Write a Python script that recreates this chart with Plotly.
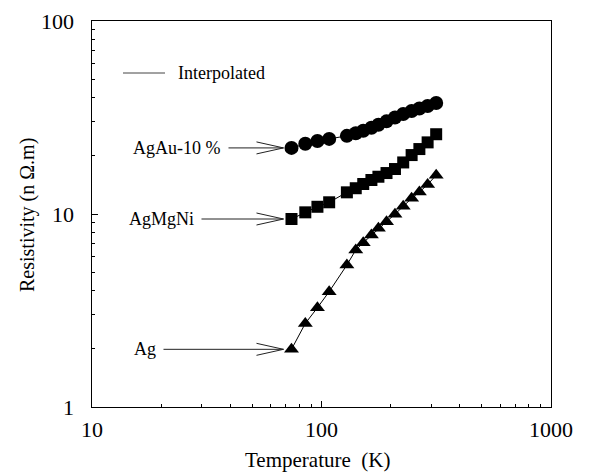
import math
import plotly.graph_objects as go

# Measured resistivity versus temperature for three silver alloys
temperature_k = [74, 85, 96, 108, 129, 141, 152, 165, 177, 192, 209, 227, 247, 267, 290, 316]
rho_agau10 = [22.0, 23.1, 23.9, 24.5, 25.4, 26.2, 27.0, 28.0, 29.0, 30.2, 31.6, 33.0, 34.2, 35.2, 36.3, 37.6]
rho_agmgni = [9.42, 10.2, 10.9, 11.5, 12.95, 13.6, 14.3, 15.0, 15.6, 16.3, 17.1, 18.5, 20.2, 21.7, 23.5, 25.9]
rho_ag = [1.99, 2.71, 3.27, 3.96, 5.44, 6.51, 7.1, 7.78, 8.43, 9.12, 9.98, 10.97, 12.05, 13.0, 14.2, 15.9]

series_names = ["AgAu-10 %", "AgMgNi", "Ag"]
series_values = [rho_agau10, rho_agmgni, rho_ag]
series_symbols = ["circle", "square", "triangle-up"]
series_sizes = [14, 12, 13]
shaft_lengths = [55, 82, 120]  # pixel length of each label arrow

x_tick_vals = [10, 100, 1000]
x_tick_text = ["10", "100", "1000"]
y_tick_vals = [1, 10, 100]
y_tick_text = ["1", "10", "100"]

FONT = "Liberation Serif, Times New Roman, serif"
FIG_W, FIG_H = 596, 474
M_L, M_R, M_T, M_B = 92, 45, 21, 67
PW = FIG_W - M_L - M_R
PH = FIG_H - M_T - M_B

fig = go.Figure()

for name, vals, sym, size in zip(series_names, series_values, series_symbols, series_sizes):
    fig.add_trace(go.Scatter(
        x=temperature_k, y=vals, name=name, mode="lines+markers",
        line=dict(color="black", width=1),
        marker=dict(symbol=sym, size=size, color="black", line=dict(width=0)),
        showlegend=False,
    ))

shapes = []
annotations = []


def px_x(p):
    return p / PW


def px_y(p):
    return p / PH


# Label arrows pointing at the first point of each series
for name, vals, shaft in zip(series_names, series_values, shaft_lengths):
    xt = (math.log10(temperature_k[0]) - 1) / 2 - px_x(8)
    yt = math.log10(vals[0]) / 2
    xs = xt - px_x(shaft)
    xb = xt - px_x(27)
    dy = px_y(6)
    path = (f"M{xs},{yt} L{xt},{yt} M{xb},{yt + dy} L{xt},{yt} L{xb},{yt - dy}")
    shapes.append(dict(type="path", xref="paper", yref="paper", path=path,
                       line=dict(color="#222", width=1)))
    annotations.append(dict(xref="paper", yref="paper", x=xs - px_x(5), y=yt,
                            text=name, showarrow=False, xanchor="right", yanchor="middle",
                            font=dict(family=FONT, size=18, color="black")))

# Key for the interpolation line
ky = (407 - 73) / PH
shapes.append(dict(type="line", xref="paper", yref="paper",
                   x0=px_x(123 - 92), x1=px_x(165 - 92), y0=ky, y1=ky,
                   line=dict(color="#444", width=1)))
annotations.append(dict(xref="paper", yref="paper", x=px_x(176 - 92), y=ky,
                        text="Interpolated", showarrow=False, xanchor="left", yanchor="middle",
                        font=dict(family=FONT, size=18, color="black")))

# Tick labels
tick_font = dict(family=FONT, size=22, color="black")
for v, t in zip(x_tick_vals, x_tick_text):
    annotations.append(dict(xref="x", yref="paper", x=math.log10(v), y=-px_y(429 - 407),
                            text=t, showarrow=False, xanchor="center", yanchor="middle",
                            font=tick_font))
for v, t in zip(y_tick_vals, y_tick_text):
    annotations.append(dict(xref="paper", yref="y", x=-px_x(92 - 76), y=math.log10(v),
                            text=t, showarrow=False, xanchor="right", yanchor="middle",
                            font=tick_font))

# Axis titles
annotations.append(dict(xref="paper", yref="paper", x=px_x(317 - 92), y=-px_y(460 - 407),
                        text="Temperature  (K)", showarrow=False, xanchor="center", yanchor="middle",
                        font=dict(family=FONT, size=21, color="black")))
annotations.append(dict(xref="paper", yref="paper", x=-px_x(92 - 27), y=px_y(407 - 215),
                        text="Resistivity (n \u03a9.m)", showarrow=False, textangle=-90,
                        xanchor="center", yanchor="middle",
                        font=dict(family=FONT, size=20, color="black")))

axis_common = dict(
    type="log", showgrid=False, zeroline=False, showline=True, linecolor="black",
    linewidth=1, mirror=True, ticks="inside", ticklen=6, tickcolor="black", tickwidth=1,
    showticklabels=False,
    minor=dict(ticks="inside", ticklen=3, tickcolor="black", tickwidth=1, dtick="D1", showgrid=False),
)

fig.update_layout(
    width=FIG_W, height=FIG_H,
    margin=dict(l=M_L, r=M_R, t=M_T, b=M_B, pad=0),
    paper_bgcolor="white", plot_bgcolor="white",
    xaxis=dict(range=[1, 3], tickvals=x_tick_vals, **axis_common),
    yaxis=dict(range=[0, 2], tickvals=y_tick_vals, **axis_common),
    shapes=shapes, annotations=annotations,
    font=dict(family=FONT, color="black"),
)

fig.write_html("out.html")
